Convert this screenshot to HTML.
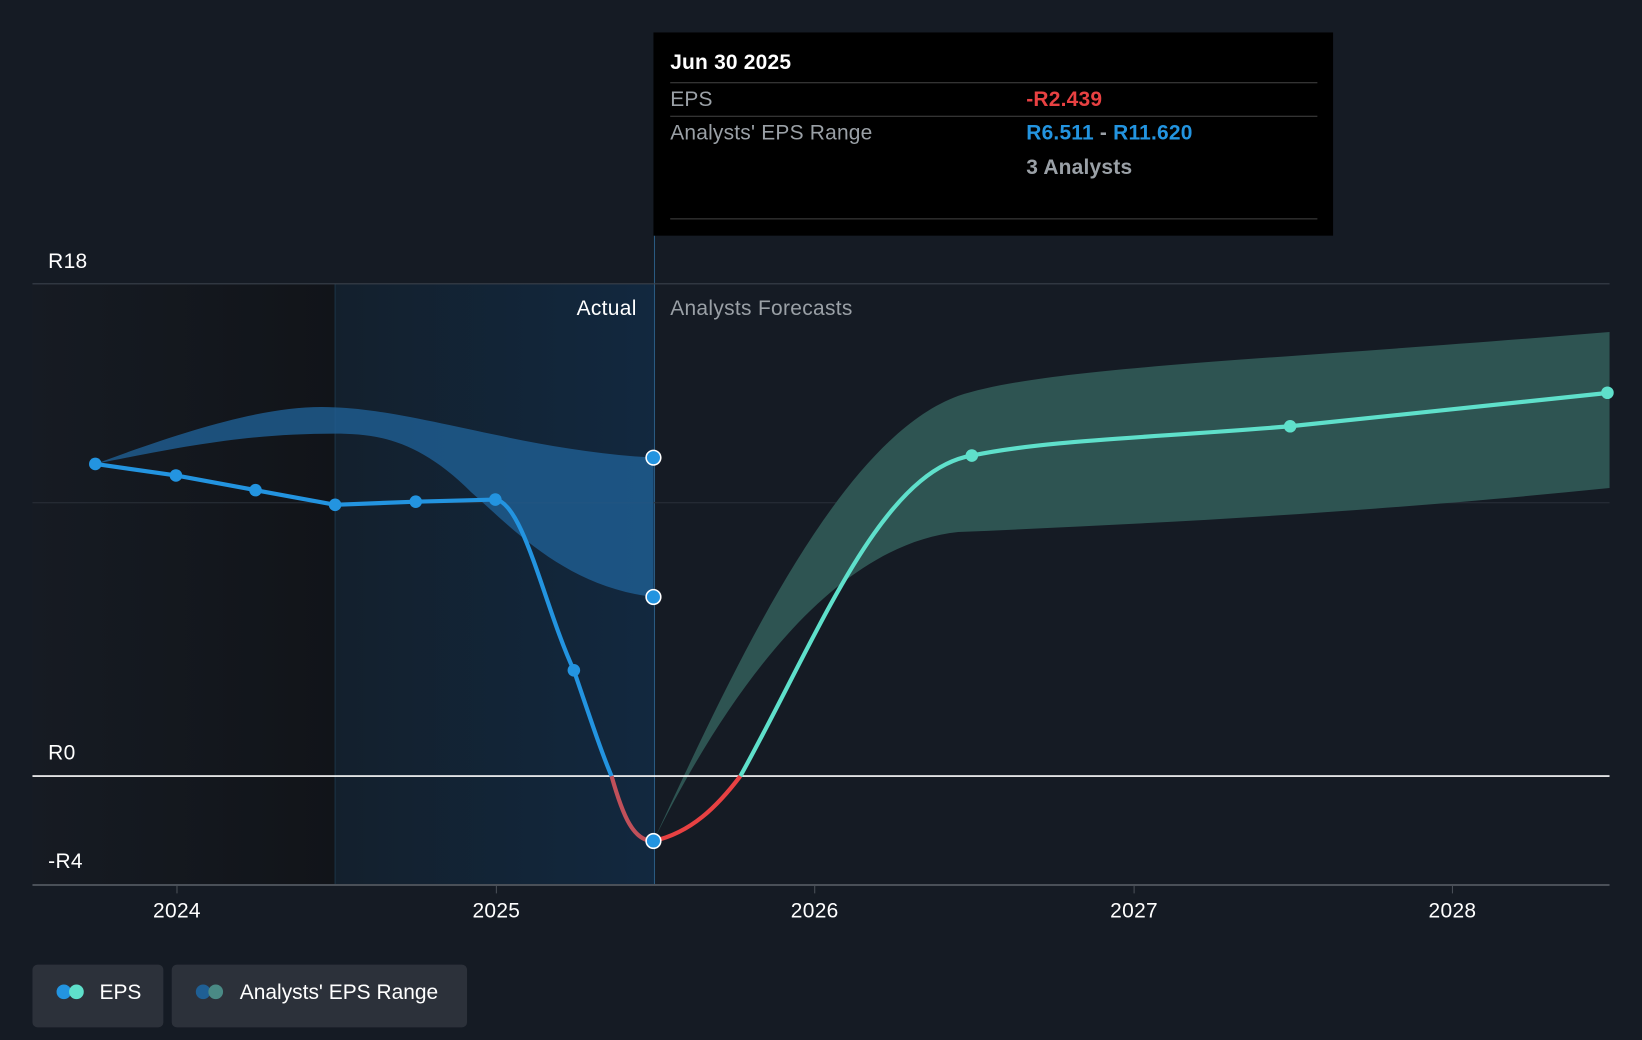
<!DOCTYPE html>
<html><head><style>
html,body{margin:0;padding:0;background:#151b24;}
svg{display:block}
text{font-family:"Liberation Sans",sans-serif;}
</style></head><body>
<svg width="1642" height="1040" viewBox="0 0 1568 993" preserveAspectRatio="none" xmlns="http://www.w3.org/2000/svg">
<defs>
<linearGradient id="hl" x1="0" x2="1" y1="0" y2="0">
<stop offset="0" stop-color="#13202d"/><stop offset="1" stop-color="#12283f"/>
</linearGradient>
<linearGradient id="dk" x1="0" x2="1"><stop offset="0" stop-color="#161b23"/><stop offset="1" stop-color="#111419"/></linearGradient>
</defs>
<rect width="1568" height="993" fill="#151b24"/>
<rect x="31" y="271" width="289" height="574" fill="url(#dk)"/>
<rect x="320" y="271" width="305" height="574" fill="url(#hl)"/>
<line x1="320" y1="271" x2="320" y2="845" stroke="#1c3446" stroke-width="1"/>
<line x1="625" y1="225" x2="625" y2="845" stroke="#2a5a80" stroke-width="1"/>
<line x1="31" y1="271" x2="1537" y2="271" stroke="#3a414b" stroke-width="1"/>
<line x1="31" y1="480" x2="1537" y2="480" stroke="#2a3039" stroke-width="1"/>
<line x1="31" y1="845" x2="1537" y2="845" stroke="#4a5058" stroke-width="2"/>
<g stroke="#4a5058" stroke-width="1">
<line x1="169" y1="845" x2="169" y2="853"/><line x1="474" y1="845" x2="474" y2="853"/><line x1="778" y1="845" x2="778" y2="853"/><line x1="1083" y1="845" x2="1083" y2="853"/><line x1="1387" y1="845" x2="1387" y2="853"/>
</g>
<path d="M91,443 C180,410 260,385 320,389 C400,392 500,430 624,437 L624,570 C540,560 490,505 450,470 C400,420 360,414 320,414 C240,414 180,425 91,443 Z" fill="#1f5f94" opacity="0.8"/>
<path d="M624,803 C700,640 800,420 915,378 C1000,350 1200,345 1537,317 L1537,466 C1300,490 1100,500 915,508 C800,520 700,650 624,803 Z" fill="#2e5452"/>
<line x1="31" y1="741" x2="1537" y2="741" stroke="#ffffff" stroke-width="1.5"/>
<path d="M91,443 L168,454 L244,468 L320,482 L397,479 L473,477 C500,480 520,580 548,640 C565,690 575,720 584,741" fill="none" stroke="#2394e0" stroke-width="4"/>
<path d="M584,741 C595,780 605,803 624,803" fill="none" stroke="#c0505a" stroke-width="4"/>
<path d="M624,803 C660,795 685,770 707,741" fill="none" stroke="#e84142" stroke-width="4"/>
<path d="M707,741 C780,610 840,450 928,435 C1000,420 1100,418 1232,407 L1537,375" fill="none" stroke="#5fe0cb" stroke-width="4"/>
<g fill="#2394e0"><circle cx="91" cy="443" r="6"/><circle cx="168" cy="454" r="6"/><circle cx="244" cy="468" r="6"/><circle cx="320" cy="482" r="6"/><circle cx="397" cy="479" r="6"/><circle cx="473" cy="477" r="6"/><circle cx="548" cy="640" r="6"/></g>
<g fill="#2394e0" stroke="#fff" stroke-width="1.5"><circle cx="624" cy="437" r="7"/><circle cx="624" cy="570" r="7"/><circle cx="624" cy="803" r="7"/></g>
<g fill="#5fe0cb"><circle cx="928" cy="435" r="6"/><circle cx="1232" cy="407" r="6"/><circle cx="1535" cy="375" r="6"/></g>
<g font-size="20" fill="#fff" letter-spacing="0.3">
<text x="46" y="256">R18</text><text x="46" y="725">R0</text><text x="46" y="829">-R4</text>
<text x="169" y="876" text-anchor="middle">2024</text><text x="474" y="876" text-anchor="middle">2025</text><text x="778" y="876" text-anchor="middle">2026</text><text x="1083" y="876" text-anchor="middle">2027</text><text x="1387" y="876" text-anchor="middle">2028</text>
<text x="608" y="301" text-anchor="end">Actual</text>
<text x="640" y="301" fill="#9aa0a6">Analysts Forecasts</text>
</g>
<rect x="624" y="31" width="649" height="194" fill="#000"/>
<g font-size="20" letter-spacing="0.2">
<text x="640" y="66" fill="#fff" font-weight="bold">Jun 30 2025</text>
<line x1="640" y1="79" x2="1258" y2="79" stroke="#444"/>
<text x="640" y="101" fill="#9aa0a6">EPS</text><text x="980" y="101" fill="#e84142" font-weight="bold">-R2.439</text>
<line x1="640" y1="111" x2="1258" y2="111" stroke="#444"/>
<text x="640" y="133" fill="#9aa0a6">Analysts' EPS Range</text>
<text x="980" y="133" font-weight="bold"><tspan fill="#2394e0">R6.511</tspan><tspan fill="#9aa0a6"> - </tspan><tspan fill="#2394e0">R11.620</tspan></text>
<text x="980" y="166" fill="#9aa0a6" font-weight="bold">3 Analysts</text>
<line x1="640" y1="209" x2="1258" y2="209" stroke="#444"/>
</g>
<rect x="31" y="921" width="125" height="60" rx="5" fill="#2c313a"/>
<circle cx="61" cy="947" r="7" fill="#2394e0"/><circle cx="73" cy="947" r="7" fill="#5fe0cb"/>
<text x="95" y="954" font-size="20" fill="#fff">EPS</text>
<rect x="164" y="921" width="282" height="60" rx="5" fill="#2c313a"/>
<circle cx="194" cy="947" r="7" fill="#1f5f94"/><circle cx="206" cy="947" r="7" fill="#4a8a85"/>
<text x="229" y="954" font-size="20" fill="#fff">Analysts' EPS Range</text>
</svg>
</body></html>
